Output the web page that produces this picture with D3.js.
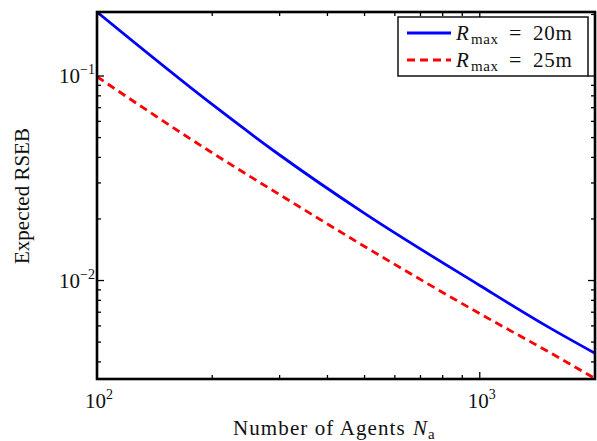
<!DOCTYPE html>
<html><head><meta charset="utf-8">
<script src="https://cdn.jsdelivr.net/npm/d3@7"></script>
<style>body{margin:0;background:#fff}svg{display:block}text{font-family:"Liberation Serif","DejaVu Serif",serif;fill:#111}</style>
</head><body><svg id="c" width="597" height="441"></svg>
<script>
const agents = [100, 200, 300, 500, 1000, 1500, 2000];
const rseb20 = [0.2056, 0.0726, 0.0411, 0.0213, 0.00946, 0.00597, 0.00441];
const rseb25 = [0.0992, 0.0421, 0.0263, 0.01468, 0.00689, 0.00452, 0.00332];
const seriesNames = ["20m", "25m"];
const xMajor = [100, 1000], xMajorExp = ["2", "3"];
const yMajor = [0.01, 0.1], yMajorExp = ["\u22122", "\u22121"];

const svg = d3.select("#c");
const L = 97, R = 595, T = 12, B = 379;
const x = d3.scaleLog().domain([100, 2000]).range([L, R]);
const y = d3.scaleLog().domain([0.0033, 0.2056]).range([B, T]);

const xMinor = [200,300,400,500,600,700,800,900,2000];
const yMinor = [0.004,0.005,0.006,0.007,0.008,0.009,0.02,0.03,0.04,0.05,0.06,0.07,0.08,0.09,0.2];

svg.append("clipPath").attr("id","cp").append("rect")
  .attr("x",L).attr("y",T).attr("width",R-L).attr("height",B-T);

const line = d3.line().x((d,i)=>x(agents[i])).y(d=>y(d)).curve(d3.curveMonotoneX);
const g = svg.append("g").attr("clip-path","url(#cp)");
g.append("path").attr("d", line(rseb20)).attr("fill","none").attr("stroke","#0000ff").attr("stroke-width",2.8);
g.append("path").attr("d", line(rseb25)).attr("fill","none").attr("stroke","#ff0000").attr("stroke-width",2.8).attr("stroke-dasharray","8,5");

// ticks (inward on all sides)
const tk = svg.append("g").attr("stroke","#000").attr("stroke-width",1.3);
function xt(v,len){ const px=x(v);
  tk.append("line").attr("x1",px).attr("x2",px).attr("y1",B).attr("y2",B-len);
  tk.append("line").attr("x1",px).attr("x2",px).attr("y1",T).attr("y2",T+len);}
function yt(v,len){ const py=y(v);
  tk.append("line").attr("x1",L).attr("x2",L+len).attr("y1",py).attr("y2",py);
  tk.append("line").attr("x1",R).attr("x2",R-len).attr("y1",py).attr("y2",py);}
xMajor.forEach(v=>xt(v,7)); xMinor.forEach(v=>xt(v,4));
yMajor.forEach(v=>yt(v,7)); yMinor.forEach(v=>yt(v,4));

svg.append("rect").attr("x",L).attr("y",T).attr("width",R-L).attr("height",B-T)
  .attr("fill","none").attr("stroke","#000").attr("stroke-width",2.6);

// tick labels
xMajor.forEach((v,i)=>{
  const t = svg.append("text").attr("x",x(v)-12).attr("y",408).attr("font-size",21);
  t.append("tspan").text("10");
  t.append("tspan").attr("dy",-9).attr("font-size",14).text(xMajorExp[i]);
});
yMajor.forEach((v,i)=>{
  const t = svg.append("text").attr("x",59).attr("y",y(v)+7).attr("font-size",21);
  t.append("tspan").text("10");
  t.append("tspan").attr("dy",-9).attr("font-size",14).text(yMajorExp[i]);
});

// axis labels
svg.append("text").attr("x",233).attr("y",435).attr("font-size",21)
  .attr("letter-spacing",1.1).text("Number of Agents");
svg.append("text").attr("x",413).attr("y",435).attr("font-size",21)
  .attr("font-style","italic").text("N");
svg.append("text").attr("x",428).attr("y",439).attr("font-size",15).text("a");

svg.append("text").attr("transform","translate(29,196) rotate(-90)").attr("text-anchor","middle")
  .attr("font-size",21).text("Expected RSEB");

// legend
const lg = svg.append("g");
lg.append("rect").attr("x",398).attr("y",17).attr("width",190).attr("height",59)
  .attr("fill","#fff").attr("stroke","#000").attr("stroke-width",1.4);
const colors = ["#0000ff","#ff0000"], dashes = [null,"8,5"];
seriesNames.forEach((n,i)=>{
  const yy = 33 + i*27;
  lg.append("line").attr("x1",407).attr("x2",451).attr("y1",yy).attr("y2",yy)
    .attr("stroke",colors[i]).attr("stroke-width",2.8).attr("stroke-dasharray",dashes[i]);
  lg.append("text").attr("x",456).attr("y",yy+7).attr("font-size",21).attr("font-style","italic").text("R");
  lg.append("text").attr("x",471).attr("y",yy+11).attr("font-size",15).attr("letter-spacing",0.6).text("max");
  lg.append("text").attr("x",509).attr("y",yy+7).attr("font-size",22).text("=");
  lg.append("text").attr("x",533).attr("y",yy+7).attr("font-size",21).attr("letter-spacing",0.8).text(n);
});
</script></body></html>
